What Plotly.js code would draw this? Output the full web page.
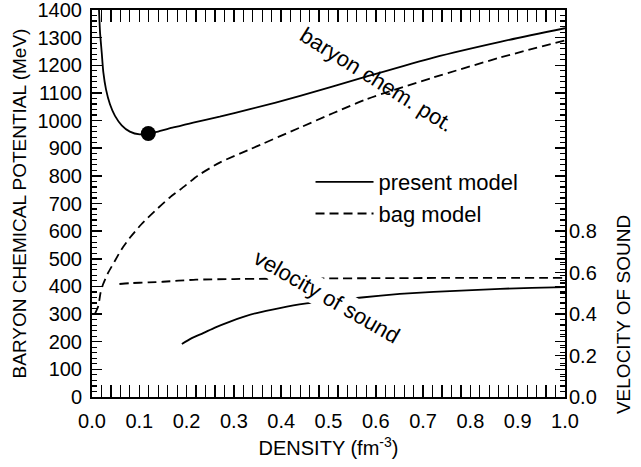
<!DOCTYPE html>
<html>
<head>
<meta charset="utf-8">
<script src="https://cdn.plot.ly/plotly-3.0.1.min.js"></script>
<style>html,body{margin:0;padding:0;background:#fff;}#chart{width:641px;height:467px;}</style>
</head>
<body>
<div id="chart"></div>
<script>
// Baryon chemical potential (MeV) vs density (fm^-3)
var presentMuDensity = [0.0148, 0.017, 0.0205, 0.024, 0.0296, 0.038, 0.0486, 0.0628, 0.080, 0.101, 0.119, 0.137, 0.172, 0.214, 0.27, 0.334, 0.44, 0.574, 0.722, 0.863, 1.0];
var presentMu        = [1400, 1319, 1247, 1174, 1113, 1059, 1017, 983, 960, 950, 953, 959, 975, 993, 1014, 1041, 1089, 1156, 1228, 1285, 1334];

var bagMuDensity = [0.006, 0.013, 0.018, 0.023, 0.034, 0.048, 0.062, 0.08, 0.104, 0.1325, 0.164, 0.196, 0.224, 0.27, 0.334, 0.44, 0.58, 0.722, 0.863, 1.0];
var bagMu        = [300, 327, 376, 406, 449, 491, 533, 576, 624, 672, 721, 763, 801, 848, 896, 975, 1077, 1156, 1228, 1290];

// Velocity of sound vs density
var presentVsDensity = [0.19, 0.21, 0.235, 0.26, 0.292, 0.32, 0.348, 0.397, 0.45, 0.51, 0.57, 0.651, 0.722, 0.792, 0.863, 0.93, 1.0];
var presentVs        = [0.256, 0.283, 0.308, 0.335, 0.364, 0.386, 0.405, 0.429, 0.45, 0.466, 0.48, 0.497, 0.507, 0.514, 0.522, 0.526, 0.53];

var bagVsDensity = [0.058, 0.08, 0.12, 0.15, 0.183, 0.22, 0.3, 0.5, 0.7, 1.0];
var bagVs        = [0.545, 0.549, 0.553, 0.556, 0.561, 0.566, 0.569, 0.572, 0.574, 0.575];

// Saturation point marker
var satDensity = [0.119];
var satMu = [953];

var xTicks = [0, 0.1, 0.2, 0.3, 0.4, 0.5, 0.6, 0.7, 0.8, 0.9, 1.0];
var xTickText = ['0.0','0.1','0.2','0.3','0.4','0.5','0.6','0.7','0.8','0.9','1.0'];
var muTicks = [0, 100, 200, 300, 400, 500, 600, 700, 800, 900, 1000, 1100, 1200, 1300, 1400];
var muTickText = ['0','100','200','300','400','500','600','700','800','900','1000','1100','1200','1300','1400'];
var vTicks = [0, 0.2, 0.4, 0.6, 0.8];
var vTickText = ['0.0','0.2','0.4','0.6','0.8'];
var vMinor = [0.05, 0.1, 0.15, 0.25, 0.3, 0.35, 0.45, 0.5, 0.55, 0.65, 0.7, 0.75];

var FONT = 'Liberation Sans, Arial, Helvetica, sans-serif';
var LW = 1.8;
var DASH = '9px,5px';

var traces = [
  {x: presentMuDensity, y: presentMu, mode: 'lines', name: 'present model',
   line: {color: '#000', width: LW, shape: 'spline', smoothing: 0.6}, yaxis: 'y'},
  {x: bagMuDensity, y: bagMu, mode: 'lines', name: 'bag model',
   line: {color: '#000', width: LW, dash: DASH, shape: 'spline', smoothing: 0.6}, yaxis: 'y'},
  {x: satDensity, y: satMu, mode: 'markers', showlegend: false,
   marker: {color: '#000', size: 15}, yaxis: 'y'},
  {x: presentVsDensity, y: presentVs, mode: 'lines', showlegend: false,
   line: {color: '#000', width: LW, shape: 'spline', smoothing: 0.6}, yaxis: 'y2'},
  {x: bagVsDensity, y: bagVs, mode: 'lines', showlegend: false,
   line: {color: '#000', width: LW, dash: DASH, shape: 'spline', smoothing: 0.6}, yaxis: 'y2'}
];

var layout = {
  width: 641, height: 467,
  margin: {l: 92, r: 76, t: 10, b: 70},
  paper_bgcolor: '#fff', plot_bgcolor: '#fff',
  font: {family: FONT, size: 20, color: '#000'},
  showlegend: true,
  legend: {x: 0.462, y: 0.514, xanchor: 'left', yanchor: 'middle',
           bgcolor: 'rgba(0,0,0,0)', font: {family: FONT, size: 22, color: '#000'},
           itemwidth: 58, tracegroupgap: 0},
  xaxis: {
    range: [0, 1], tickmode: 'array', tickvals: xTicks, ticktext: xTickText,
    ticks: 'inside', ticklen: 12, tickwidth: 1.5, tickcolor: '#000',
    minor: {dtick: 0.02, tick0: 0, ticks: 'inside', ticklen: 6, tickwidth: 1.2, tickcolor: '#000', showgrid: false},
    showline: true, linewidth: 2, linecolor: '#000', mirror: 'allticks',
    showgrid: false, zeroline: false, ticklabelstandoff: 5, ticklabeloverflow: 'allow',
    tickfont: {family: FONT, size: 20, color: '#000'},
    title: {text: 'DENSITY (fm<sup>-3</sup>)', font: {family: FONT, size: 20, color: '#000'}, standoff: 10}
  },
  yaxis: {
    range: [0, 1400], tickmode: 'array', tickvals: muTicks, ticktext: muTickText,
    ticks: 'inside', ticklen: 10, tickwidth: 1.5, tickcolor: '#000',
    minor: {dtick: 20, tick0: 0, ticks: 'inside', ticklen: 5, tickwidth: 1.2, tickcolor: '#000', showgrid: false},
    showline: true, linewidth: 2, linecolor: '#000', mirror: 'allticks',
    showgrid: false, zeroline: false, ticklabelstandoff: 4, ticklabeloverflow: 'allow',
    tickfont: {family: FONT, size: 20, color: '#000'},
    title: {text: 'BARYON CHEMICAL POTENTIAL (MeV)', font: {family: FONT, size: 19, color: '#000'}, standoff: 6}
  },
  yaxis2: {
    overlaying: 'y', side: 'right', range: [0, 1400 / 750],
    tickmode: 'array', tickvals: vTicks, ticktext: vTickText,
    ticks: 'inside', ticklen: 10, tickwidth: 1.5, tickcolor: '#000',
    minor: {tickmode: 'array', tickvals: vMinor, ticks: 'inside', ticklen: 5, tickwidth: 1.2, tickcolor: '#000', showgrid: false},
    showline: false, showgrid: false, zeroline: false, ticklabelstandoff: 3, ticklabeloverflow: 'allow',
    tickfont: {family: FONT, size: 20, color: '#000'}
  },
  annotations: [
    {text: 'baryon chem. pot.', x: 0.602, y: 1150, xref: 'x', yref: 'y',
     showarrow: false, textangle: 32, font: {family: FONT, size: 22, color: '#000'}},
    {text: 'velocity of sound', x: 0.496, y: 364, xref: 'x', yref: 'y',
     showarrow: false, textangle: 30, bgcolor: '#fff', font: {family: FONT, size: 22, color: '#000'}},
    {text: 'VELOCITY OF SOUND', x: 1.1226, y: 0.4, xref: 'paper', yref: 'y2',
     showarrow: false, textangle: -90, xanchor: 'center', yanchor: 'middle',
     font: {family: FONT, size: 19, color: '#000'}}
  ]
};

Plotly.newPlot('chart', traces, layout, {staticPlot: true, displayModeBar: false});
</script>
</body>
</html>
